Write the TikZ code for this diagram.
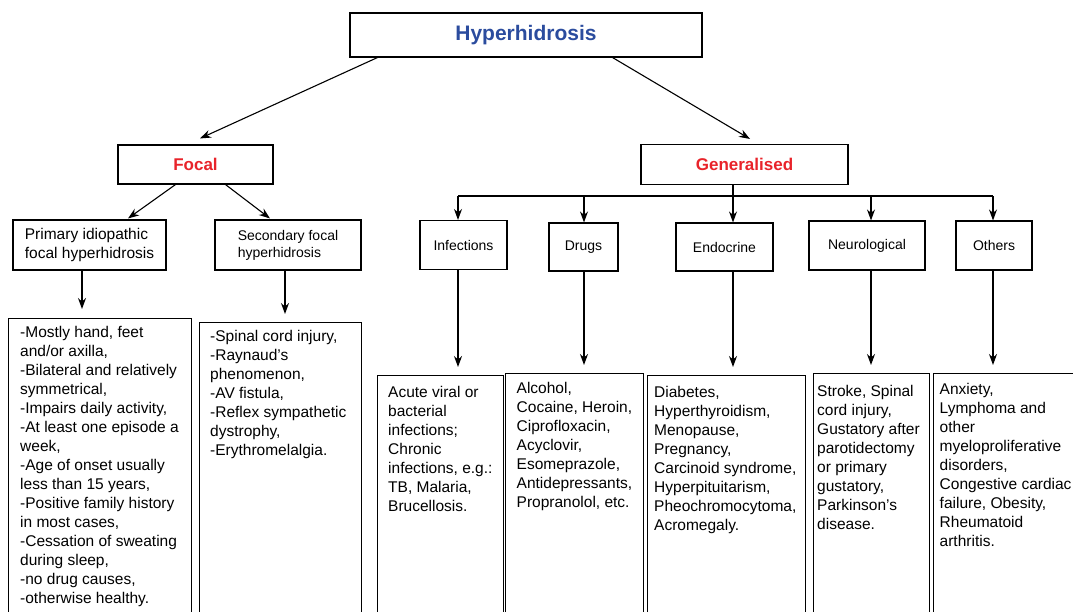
\documentclass[tikz,border=0pt]{standalone}
\usepackage{fontspec}
\setmainfont{Liberation Sans}
\usetikzlibrary{arrows.meta,positioning}
\definecolor{hhblue}{RGB}{43,76,158}
\definecolor{hhred}{RGB}{232,35,42}

\begin{document}
\begin{tikzpicture}[x=1pt,y=-1pt,
	panel/.style={draw,line width=1.1pt,inner sep=0pt},
	listtext/.style={inner sep=0pt,align=left,anchor=north west,
		font=\fontsize{15.5}{19}\selectfont},
	arr/.style={line width=1.1pt,-{Stealth[length=11pt,width=8pt]}},
	link/.style={line width=1.1pt}]
	\useasboundingbox (0,0) rectangle (1073,611);
	\clip (0,0) rectangle (1073,611);

	\begin{scope}[every node/.style={panel}]
		\node[minimum width=352pt,minimum height=44pt,text=hhblue,
			font=\fontsize{21}{25}\selectfont\bfseries] (hyp) at (526,35) {Hyperhidrosis};
		\node[minimum width=155pt,minimum height=39pt,text=hhred,
			font=\fontsize{17}{20}\selectfont\bfseries] (focal) at (195.5,164.5) {Focal};
		\node[minimum width=207pt,minimum height=40pt,text=hhred,
			font=\fontsize{17}{20}\selectfont\bfseries] (gen) at (744.5,164.5) {Generalised};

		\node[minimum width=153pt,minimum height=50pt,align=left,
			font=\fontsize{15.5}{19}\selectfont] (pid) at (89.5,245) {Primary idiopathic\\focal hyperhidrosis};
		\node[minimum width=146pt,minimum height=50pt,align=left,
			font=\fontsize{14}{17}\selectfont] (sec) at (288,245) {Secondary focal\\hyperhidrosis};
	\end{scope}

	\begin{scope}[every node/.style={panel,minimum height=49pt,font=\fontsize{14}{17}\selectfont}]
		\node[minimum width=87pt] (infcat) at (463.5,245) {Infections};
		\node[minimum width=69pt,minimum height=48pt] (drugcat) at (583.5,247) {Drugs};
		\node[minimum width=97pt,minimum height=48pt] (endocat) at (724.5,247) {Endocrine};
		\node[minimum width=116pt] (neurocat) at (867,245.5) {Neurological};
		\node[minimum width=76pt] (othcat) at (994,245.5) {Others};
	\end{scope}

	\begin{scope}[every node/.style={panel,anchor=north west,minimum height=320pt}]
		\node[minimum width=183pt] (pidbox) at (8,318) {};
		\node[minimum width=162pt] (secbox) at (199,322) {};
		\node[minimum width=126pt] (infbox) at (376.5,375) {};
		\node[minimum width=138pt] (drugbox) at (505,373) {};
		\node[minimum width=158pt] (endobox) at (647,375) {};
		\node[minimum width=116pt] (neurobox) at (813,373) {};
		\node[minimum width=160pt] (othbox) at (933,373) {};
	\end{scope}

	\node[listtext] (pidtext) at ([xshift=12pt,yshift=-8pt]pidbox.north west)
		{-Mostly hand, feet\\and/or axilla,\\-Bilateral and relatively\\symmetrical,\\-Impairs daily activity,\\-At least one episode a\\week,\\-Age of onset usually\\less than 15 years,\\-Positive family history\\in most cases,\\-Cessation of sweating\\during sleep,\\-no drug causes,\\-otherwise healthy.};
	\node[listtext] (sectext) at ([xshift=11pt,yshift=-8pt]secbox.north west)
		{-Spinal cord injury,\\-Raynaud's\\phenomenon,\\-AV fistula,\\-Reflex sympathetic\\dystrophy,\\-Erythromelalgia.};
	\node[listtext] (inftext) at ([xshift=11.5pt,yshift=-11pt]infbox.north west)
		{Acute viral or\\bacterial\\infections;\\Chronic\\infections, e.g.:\\TB, Malaria,\\Brucellosis.};
	\node[listtext] (drugtext) at ([xshift=11.5pt,yshift=-9pt]drugbox.north west)
		{Alcohol,\\Cocaine, Heroin,\\Ciprofloxacin,\\Acyclovir,\\Esomeprazole,\\Antidepressants,\\Propranolol, etc.};
	\node[listtext] (endotext) at ([xshift=7pt,yshift=-11pt]endobox.north west)
		{Diabetes,\\Hyperthyroidism,\\Menopause,\\Pregnancy,\\Carcinoid syndrome,\\Hyperpituitarism,\\Pheochromocytoma,\\Acromegaly.};
	\node[listtext] (neurotext) at ([xshift=4pt,yshift=-12pt]neurobox.north west)
		{Stroke, Spinal\\cord injury,\\Gustatory after\\parotidectomy\\or primary\\gustatory,\\Parkinson's\\disease.};
	\node[listtext] (othtext) at ([xshift=6.5pt,yshift=-10pt]othbox.north west)
		{Anxiety,\\Lymphoma and\\other\\myeloproliferative\\disorders,\\Congestive cardiac\\failure, Obesity,\\Rheumatoid\\arthritis.};

	\draw[arr] ([xshift=28pt]hyp.south west) -- ([xshift=4.5pt,yshift=6pt]focal.north);
	\draw[arr] ([xshift=-90pt]hyp.south east) -- ([xshift=5.5pt,yshift=5pt]gen.north);

	\draw[arr] ([xshift=-20pt]focal.south) -- ([xshift=38.5pt,yshift=1pt]pid.north);
	\draw[arr] ([xshift=30pt]focal.south) -- ([xshift=-18pt,yshift=1pt]sec.north);

	\draw[arr,shorten >=9pt] ([xshift=-7.5pt]pid.south) -- ([xshift=-7.5pt]pid.south |- pidbox.north);
	\draw[arr,shorten >=8pt] ([xshift=-3pt]sec.south) -- ([xshift=-3pt]sec.south |- secbox.north);

	\coordinate (b1) at (458,196);
	\coordinate (b2) at (584,196);
	\coordinate (b3) at (733,196);
	\coordinate (b4) at (871,196);
	\coordinate (b5) at (993,196);
	\draw[link] (b1) -- (b5);
	\draw[link] (gen.south -| b3) -- (b3);
	\foreach \b/\c/\d in {b1/infcat/infbox,b2/drugcat/drugbox,b3/endocat/endobox,
		b4/neurocat/neurobox,b5/othcat/othbox} {
		\draw[arr] (\b) -- (\b |- \c.north);
		\draw[arr,shorten >=8pt] (\b |- \c.south) -- (\b |- \d.north);
	}
\end{tikzpicture}
\end{document}
